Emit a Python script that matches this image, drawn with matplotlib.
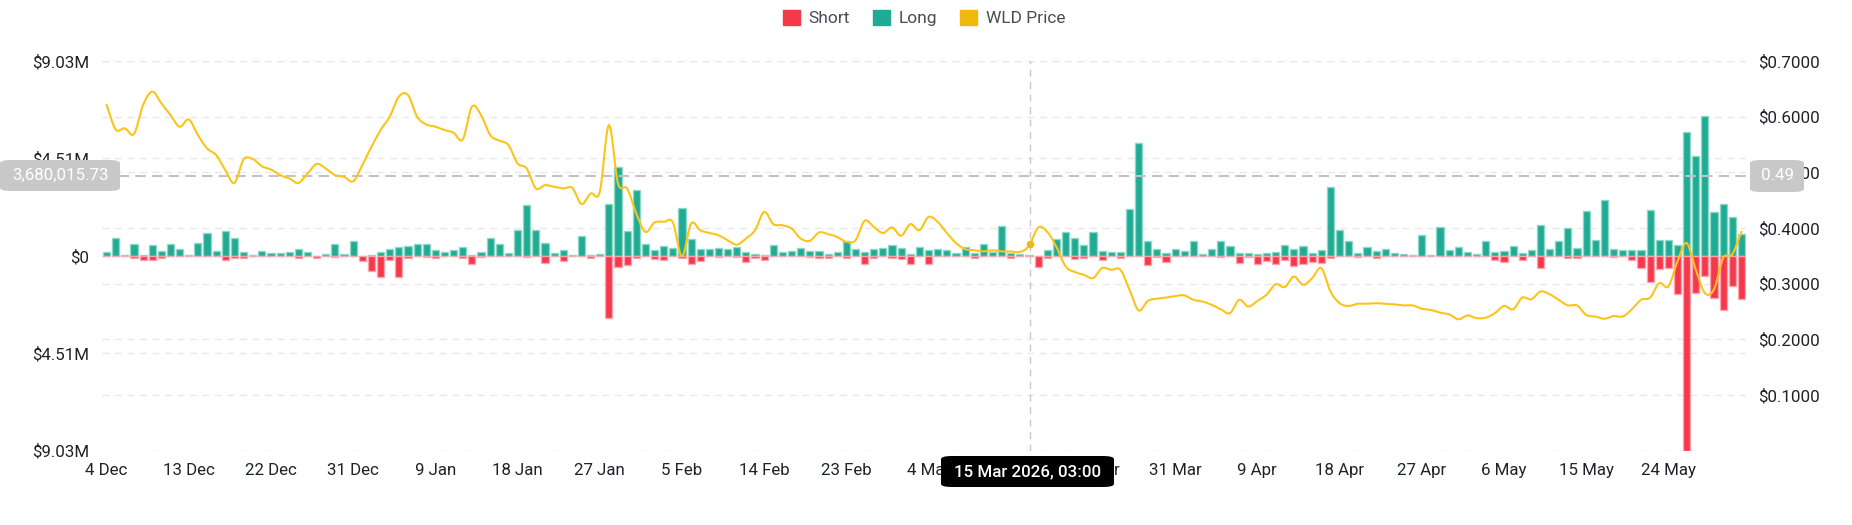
import numpy as np
import pandas as pd
import matplotlib
matplotlib.use("Agg")
import matplotlib.pyplot as plt
import matplotlib.dates as mdates
from matplotlib.patches import Rectangle, FancyBboxPatch

plt.rcParams["font.family"] = ["Roboto", "DejaVu Sans"]

start_date = "2025-12-04"

# daily liquidations, millions of USD
long_m = [
    0.19, 0.82, 0.06, 0.53, 0.06, 0.50, 0.22, 0.57, 0.33, 0.05,
    0.59, 1.05, 0.23, 1.15, 0.84, 0.16, 0.05, 0.23, 0.14, 0.14,
    0.19, 0.34, 0.16, 0.00, 0.08, 0.56, 0.08, 0.68, 0.00, 0.05,
    0.16, 0.31, 0.39, 0.45, 0.53, 0.53, 0.29, 0.17, 0.25, 0.42,
    0.05, 0.16, 0.84, 0.53, 0.14, 1.21, 2.36, 1.18, 0.59, 0.11,
    0.29, 0.05, 0.93, 0.05, 0.09, 2.39, 4.14, 1.15, 3.07, 0.54,
    0.25, 0.47, 0.36, 2.23, 0.79, 0.31, 0.34, 0.36, 0.34, 0.39,
    0.16, 0.09, 0.05, 0.50, 0.20, 0.23, 0.36, 0.22, 0.23, 0.09,
    0.19, 0.70, 0.31, 0.16, 0.33, 0.36, 0.48, 0.36, 0.09, 0.39,
    0.26, 0.33, 0.28, 0.14, 0.42, 0.11, 0.57, 0.16, 1.38, 0.12,
    0.08, 0.06, 0.00, 0.25, 0.76, 1.12, 0.84, 0.51, 1.10, 0.23,
    0.17, 0.17, 2.15, 5.24, 0.70, 0.33, 0.14, 0.33, 0.23, 0.67,
    0.09, 0.33, 0.71, 0.45, 0.14, 0.11, 0.09, 0.14, 0.19, 0.50,
    0.33, 0.45, 0.12, 0.28, 3.19, 1.21, 0.68, 0.11, 0.42, 0.23,
    0.31, 0.12, 0.09, 0.05, 0.96, 0.03, 1.32, 0.26, 0.43, 0.16,
    0.08, 0.68, 0.20, 0.22, 0.45, 0.11, 0.26, 1.44, 0.33, 0.71,
    1.30, 0.37, 2.09, 0.74, 2.60, 0.34, 0.28, 0.25, 0.29, 2.14,
    0.74, 0.74, 0.51, 5.72, 4.65, 6.46, 2.03, 2.40, 1.81, 1.02,
]
short_m = [
    0.03, 0.00, 0.00, 0.08, 0.20, 0.20, 0.12, 0.03, 0.00, 0.00,
    0.00, 0.03, 0.03, 0.20, 0.08, 0.12, 0.03, 0.00, 0.03, 0.03,
    0.03, 0.08, 0.03, 0.08, 0.00, 0.06, 0.00, 0.00, 0.26, 0.71,
    0.96, 0.17, 0.98, 0.12, 0.03, 0.06, 0.09, 0.00, 0.00, 0.09,
    0.36, 0.05, 0.00, 0.03, 0.00, 0.00, 0.06, 0.00, 0.33, 0.00,
    0.22, 0.00, 0.00, 0.09, 0.03, 2.89, 0.50, 0.42, 0.09, 0.03,
    0.14, 0.20, 0.03, 0.11, 0.39, 0.23, 0.03, 0.05, 0.03, 0.05,
    0.28, 0.12, 0.19, 0.03, 0.03, 0.03, 0.03, 0.05, 0.08, 0.11,
    0.00, 0.12, 0.03, 0.36, 0.08, 0.03, 0.12, 0.16, 0.36, 0.03,
    0.37, 0.03, 0.03, 0.00, 0.03, 0.12, 0.03, 0.03, 0.03, 0.12,
    0.00, 0.00, 0.53, 0.08, 0.03, 0.03, 0.16, 0.08, 0.03, 0.17,
    0.03, 0.08, 0.00, 0.03, 0.43, 0.06, 0.28, 0.03, 0.03, 0.03,
    0.00, 0.00, 0.06, 0.03, 0.34, 0.05, 0.39, 0.22, 0.39, 0.17,
    0.47, 0.37, 0.29, 0.34, 0.09, 0.03, 0.03, 0.05, 0.00, 0.08,
    0.03, 0.00, 0.00, 0.00, 0.03, 0.00, 0.00, 0.03, 0.00, 0.00,
    0.00, 0.03, 0.19, 0.28, 0.03, 0.17, 0.03, 0.56, 0.03, 0.03,
    0.11, 0.08, 0.03, 0.03, 0.03, 0.05, 0.03, 0.20, 0.56, 1.22,
    0.59, 0.54, 1.75, 9.03, 1.70, 0.95, 1.94, 2.50, 1.38, 2.00,
]
price = [
    0.621, 0.577, 0.579, 0.569, 0.621, 0.645, 0.624, 0.603, 0.582, 0.595,
    0.567, 0.543, 0.531, 0.504, 0.481, 0.523, 0.524, 0.511, 0.505, 0.495,
    0.489, 0.481, 0.498, 0.515, 0.507, 0.495, 0.492, 0.484, 0.513, 0.546,
    0.576, 0.600, 0.636, 0.639, 0.600, 0.586, 0.582, 0.576, 0.571, 0.559,
    0.618, 0.603, 0.567, 0.557, 0.549, 0.516, 0.507, 0.471, 0.477, 0.474,
    0.471, 0.472, 0.443, 0.462, 0.465, 0.585, 0.480, 0.471, 0.426, 0.393,
    0.410, 0.411, 0.410, 0.349, 0.408, 0.396, 0.391, 0.387, 0.378, 0.370,
    0.381, 0.396, 0.429, 0.407, 0.405, 0.399, 0.381, 0.377, 0.392, 0.389,
    0.384, 0.375, 0.378, 0.413, 0.402, 0.391, 0.401, 0.386, 0.407, 0.396,
    0.420, 0.411, 0.391, 0.373, 0.362, 0.360, 0.358, 0.360, 0.358, 0.358,
    0.357, 0.368, 0.401, 0.393, 0.366, 0.331, 0.321, 0.316, 0.310, 0.328,
    0.325, 0.325, 0.289, 0.252, 0.269, 0.273, 0.275, 0.278, 0.279, 0.271,
    0.268, 0.262, 0.254, 0.247, 0.271, 0.259, 0.269, 0.280, 0.299, 0.294,
    0.313, 0.298, 0.310, 0.328, 0.286, 0.265, 0.260, 0.264, 0.264, 0.265,
    0.264, 0.263, 0.261, 0.261, 0.255, 0.253, 0.248, 0.245, 0.236, 0.243,
    0.238, 0.239, 0.247, 0.260, 0.254, 0.275, 0.272, 0.286, 0.281, 0.271,
    0.261, 0.261, 0.244, 0.241, 0.237, 0.242, 0.241, 0.254, 0.271, 0.275,
    0.301, 0.295, 0.340, 0.373, 0.325, 0.283, 0.290, 0.346, 0.353, 0.393,
]

left_ticks = [-9.03e6, -4.515e6, 0, 4.515e6, 9.03e6]
left_labels = ["$9.03M", "$4.51M", "$0", "$4.51M", "$9.03M"]
right_ticks = [0.1, 0.2, 0.3, 0.4, 0.5, 0.6, 0.7]
right_labels = ["$0.1000", "$0.2000", "$0.3000", "$0.4000", "$0.5000", "$0.6000", "$0.7000"]

cursor_time = "2026-03-15 03:00"
cursor_value = 3680015.73
cursor_price = 0.49

RED = "#f6384b"
GREEN = "#22ab94"
YELLOW = "#f0b90b"
LINE = "#fcc419"
TXT = "#1e2329"


def smooth(x, y, n=12):
    # catmull-rom, just for drawing the price curve round
    x = np.asarray(x, float)
    y = np.asarray(y, float)
    yp = np.concatenate([[2 * y[0] - y[1]], y, [2 * y[-1] - y[-2]]])
    t = np.linspace(0, 1, n, endpoint=False)[:, None]
    p0, p1, p2, p3 = yp[:-3], yp[1:-2], yp[2:-1], yp[3:]
    ys = 0.5 * (2 * p1 + (p2 - p0) * t + (2 * p0 - 5 * p1 + 4 * p2 - p3) * t ** 2
                + (3 * p1 - p0 - 3 * p2 + p3) * t ** 3)
    xs = x[:-1] + (x[1:] - x[:-1]) * t
    return np.append(xs.T.ravel(), x[-1]), np.append(ys.T.ravel(), y[-1])


dates = pd.date_range(start_date, periods=len(long_m), freq="D")
x = mdates.date2num(dates)
longs = np.array(long_m) * 1e6
shorts = -np.array(short_m) * 1e6

W, H = 1852, 525
fig = plt.figure(figsize=(W / 100, H / 100), dpi=100)
L, R, T, B = 102, 1746, 61, 450.7
ax = fig.add_axes([L / W, 1 - B / H, (R - L) / W, (B - T) / H])
ax2 = ax.twinx()

ylo, yhi = -9.03e6, 9.03e6
ax.set_ylim(ylo, yhi)
ax2.set_ylim(0, 0.7)
ax.set_xlim(x[0] - 0.5, x[-1] + 0.5)

# grid lines of both axes, behind the bars
for v in left_ticks:
    ax.axhline(v, color="#e8e8e8", lw=1, ls=(0, (5, 4)), zorder=0)
for p in right_ticks:
    ax.axhline(ylo + p / 0.7 * (yhi - ylo), color="#e8e8e8", lw=1, ls=(0, (5, 4)), zorder=0)

ax.bar(x, longs, width=0.78, color=GREEN, edgecolor=(0.55, 0.85, 0.78, 0.9), lw=1, zorder=2)
ax.bar(x, shorts, width=0.78, color=RED, edgecolor=(1.0, 0.65, 0.7, 0.9), lw=1, zorder=2)

sx, sy = smooth(x, price)
ax2.plot(sx, sy, color=LINE, lw=1.5, zorder=3)

xc = mdates.date2num(pd.Timestamp(cursor_time))
ax2.plot([xc], [np.interp(xc, sx, sy)], "o", ms=4.5, color=YELLOW, zorder=4)
ax.axvline(xc, color="#c8c8c8", lw=1, ls=(0, (5, 4)), zorder=1)
ax.axhline(cursor_value, color="#c2c2c2", lw=1.5, ls=(0, (5, 3)), zorder=5)

ax.set_yticks(left_ticks)
ax.set_yticklabels(left_labels)
ax2.set_yticks(right_ticks)
ax2.set_yticklabels(right_labels)
tick_days = dates[::9][:20]
ax.set_xticks(mdates.date2num(tick_days))
ax.set_xticklabels([f"{d.day} {d.strftime('%b')}" for d in tick_days])

for a in (ax, ax2):
    for s in a.spines.values():
        s.set_visible(False)
    a.tick_params(length=0, labelsize=12.2, labelcolor=TXT)
ax.tick_params(axis="y", pad=9)
ax2.tick_params(axis="y", pad=9)
ax.tick_params(axis="x", pad=9)


def box(x0, y0, x1, y1, color, text, tcolor="white", weight="normal"):
    fig.patches.append(FancyBboxPatch(
        (x0 / W, 1 - y1 / H), (x1 - x0) / W, (y1 - y0) / H,
        boxstyle="round,pad=0,rounding_size=0.006", transform=fig.transFigure,
        fc=color, ec="none", zorder=10))
    fig.text((x0 + x1) / 2 / W, 1 - (y0 + y1) / 2 / H, text, ha="center", va="center",
             color=tcolor, fontsize=12.2, fontweight=weight, zorder=11)


box(0, 160, 120, 191, "#c8c8c8", f"{cursor_value:,.2f}")
box(1750, 160, 1804, 192, "#c8c8c8", f"{cursor_price:.2f}")
box(941, 456, 1114, 487, "black", "15 Mar 2026, 03:00", weight="medium")

handles = [Rectangle((0, 0), 1, 1, color=c) for c in (RED, GREEN, YELLOW)]
fig.legend(handles, ["Short", "Long", "WLD Price"], loc="center",
           bbox_to_anchor=((L + R) / 2 / W, 1 - 18 / H), ncol=3, frameon=False,
           handlelength=1.0, handleheight=1.0, handletextpad=0.5, columnspacing=1.3,
           fontsize=12.5, labelcolor="#474d57")

fig.savefig("out.png", dpi=100)
